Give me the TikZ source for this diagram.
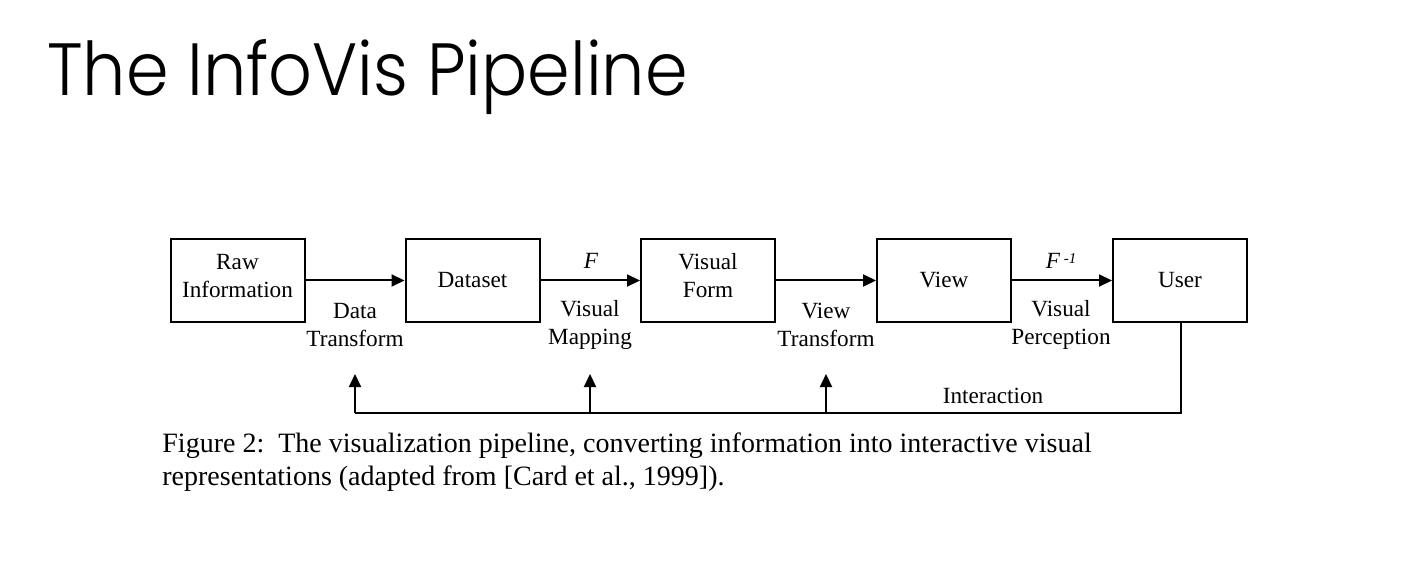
\documentclass[tikz,border=0pt]{standalone}
\usepackage{fontspec}
\setmainfont{Liberation Serif}
\newfontfamily\titlefont{Poppins Light}
\usetikzlibrary{arrows.meta}
\begin{document}
\begin{tikzpicture}[x=0.5pt,y=-0.5pt,
  stage/.style={draw,line width=1pt,minimum width=67pt,minimum height=41.5pt,
    inner sep=0pt},
  flow/.style={line width=1pt,-{Triangle[length=6.5pt,width=6pt]}},
  lbl/.style={align=center,font=\fontsize{11.6}{14}\selectfont,inner sep=0pt},
  capline/.style={anchor=base west,inner sep=0pt,font=\fontsize{14}{16}\selectfont},
  fb/.style={line width=1pt}]
\useasboundingbox (0,0) rectangle (1416,582);
\fill[white] (0,0) rectangle (1416,582);
% title
\node[anchor=base west,inner sep=0pt,font=\titlefont\fontsize{37}{40}\selectfont] (title) at (47,96)
  {\scalebox{0.925}[1]{The InfoVis Pipeline}};
% pipeline stages
\node[stage] (raw) at (237.5,280.5) {};
\node[stage] (data) at (472.5,280.5) {};
\node[stage] (form) at (708,280.5) {};
\node[stage] (view) at (944,280.5) {};
\node[stage] (user) at (1180,280.5) {};
\node[lbl] (rawt) at (237.5,276) {Raw\\Information};
\node[lbl] (datat) at (472.5,280) {Dataset};
\node[lbl] (formt) at (708,276) {Visual\\Form};
\node[lbl] (viewt) at (944,280) {View};
\node[lbl] (usert) at (1180,280) {User};
% transitions
\draw[flow] (raw) -- (data);
\draw[flow] (data) -- (form);
\draw[flow] (form) -- (view);
\draw[flow] (view) -- (user);
% transition labels
\node[lbl] (dt) at (355,325) {Data\\Transform};
\node[lbl] (vm) at (590,325) {Visual\\Mapping};
\node[lbl] (vt) at (826,325) {View\\Transform};
\node[lbl] (vp) at (1061,325) {Visual\\Perception};
\node[lbl,font=\fontsize{11.6}{14}\selectfont\itshape] (f) at (591,261) {F};
\node[lbl,font=\fontsize{11.6}{14}\selectfont\itshape] (finv) at (1061,261)
  {F\,\raisebox{0.45ex}{\fontsize{7.5}{9}\selectfont -1}};
% interaction feedback
\coordinate (c1) at (1181,413);
\coordinate (c2) at (355,413);
\coordinate (m1) at (590,413);
\coordinate (m2) at (826,413);
\coordinate (t1) at (355,374);
\coordinate (t2) at (590,374);
\coordinate (t3) at (826,374);
\draw[fb] (user.south -| c1) -- (c1) -- (c2);
\draw[flow] (c2) -- (t1);
\draw[flow] (m1) -- (t2);
\draw[flow] (m2) -- (t3);
\node[lbl] (inter) at (993,396) {Interaction};
% caption
\node[capline] (cap1) at (162,452)
  {Figure 2:\ \ The visualization pipeline, converting information into interactive visual};
\node[capline] (cap2) at (162,485)
  {representations (adapted from [Card et al., 1999]).};
\end{tikzpicture}
\end{document}
